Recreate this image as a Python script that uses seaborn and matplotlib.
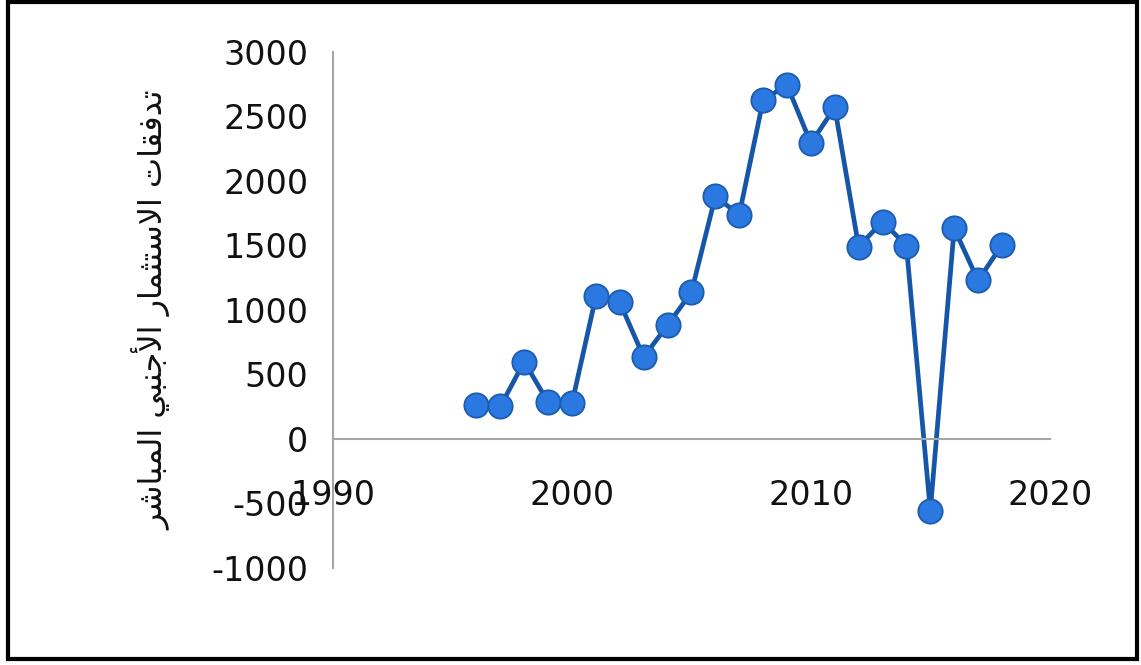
import matplotlib
matplotlib.use("Agg")
import matplotlib.pyplot as plt
from matplotlib.patches import Rectangle
import seaborn as sns

years = list(range(1996, 2019))
fdi = [265, 252, 599, 283, 277, 1105, 1058, 635, 881, 1138, 1880, 1737,
       2625, 2744, 2292, 2569, 1490, 1685, 1498, -557, 1631, 1228, 1503]
x_ticks = [1990, 2000, 2010, 2020]
y_ticks = [-1000, -500, 0, 500, 1000, 1500, 2000, 2500, 3000]
y_label = "تدفقات الاستثمار الأجنبي المباشر"

# matplotlib does no arabic shaping, so pick presentation forms by hand
# letter: (isolated, final, initial, medial)
FORMS = {
    "ا": ("\uFE8D", "\uFE8E", None, None),
    "أ": ("\uFE83", "\uFE84", None, None),
    "ب": ("\uFE8F", "\uFE90", "\uFE91", "\uFE92"),
    "ت": ("\uFE95", "\uFE96", "\uFE97", "\uFE98"),
    "ث": ("\uFE99", "\uFE9A", "\uFE9B", "\uFE9C"),
    "ج": ("\uFE9D", "\uFE9E", "\uFE9F", "\uFEA0"),
    "د": ("\uFEA9", "\uFEAA", None, None),
    "ر": ("\uFEAD", "\uFEAE", None, None),
    "س": ("\uFEB1", "\uFEB2", "\uFEB3", "\uFEB4"),
    "ش": ("\uFEB5", "\uFEB6", "\uFEB7", "\uFEB8"),
    "ف": ("\uFED1", "\uFED2", "\uFED3", "\uFED4"),
    "ق": ("\uFED5", "\uFED6", "\uFED7", "\uFED8"),
    "ل": ("\uFEDD", "\uFEDE", "\uFEDF", "\uFEE0"),
    "م": ("\uFEE1", "\uFEE2", "\uFEE3", "\uFEE4"),
    "ن": ("\uFEE5", "\uFEE6", "\uFEE7", "\uFEE8"),
    "ي": ("\uFEF1", "\uFEF2", "\uFEF3", "\uFEF4"),
    "لا": ("\uFEFB", "\uFEFC", None, None),
    "لأ": ("\uFEF7", "\uFEF8", None, None),
}


def shape_arabic(text):
    out_words = []
    for word in text.split(" "):
        units = []
        i = 0
        while i < len(word):
            if word[i] == "ل" and i + 1 < len(word) and word[i + 1] in "اأ":
                units.append(word[i:i + 2])
                i += 2
            else:
                units.append(word[i])
                i += 1
        shaped = ""
        for k, u in enumerate(units):
            iso, fin, ini, med = FORMS[u]
            prev_joins = k > 0 and FORMS[units[k - 1]][2] is not None
            next_joins = ini is not None and k < len(units) - 1
            if prev_joins and next_joins:
                shaped += med
            elif prev_joins:
                shaped += fin
            elif next_joins:
                shaped += ini
            else:
                shaped += iso
        out_words.append(shaped)
    return " ".join(out_words)[::-1]


sns.set_theme(style="white")
plt.rcParams["font.family"] = ["DejaVu Sans"]

fig = plt.figure(figsize=(11.41, 6.65), dpi=100)
ax = fig.add_axes([0.292, 0.146, 0.628, 0.776])

sns.lineplot(x=years, y=fdi, ax=ax, color="#1656a8", linewidth=3.4,
             marker="o", markersize=17.5, markerfacecolor="#2a78e0",
             markeredgecolor="#1a5cb0", markeredgewidth=1.3)

ax.set_xlim(1990, 2020)
ax.set_ylim(-1000, 3000)
ax.set_xticks(x_ticks)
ax.set_yticks(y_ticks)
ax.set_xticklabels([str(t) for t in x_ticks])
ax.set_yticklabels([str(t) for t in y_ticks])

for side in ["top", "right"]:
    ax.spines[side].set_visible(False)
ax.spines["bottom"].set_position(("data", 0))
for side in ["left", "bottom"]:
    ax.spines[side].set_color("#a6a6a6")
    ax.spines[side].set_linewidth(1.5)
ax.tick_params(axis="x", length=0, pad=29, labelsize=24, labelcolor="#111111")
ax.tick_params(axis="y", length=0, pad=18, labelsize=24, labelcolor="#111111")

ax.set_ylabel(shape_arabic(y_label), fontsize=23, color="#111111")
ax.yaxis.set_label_coords(-0.226, 0.5)
ax.set_xlabel("")

fig.patches.append(Rectangle((8 / 1141, 6 / 665), 1129 / 1141, 657 / 665,
                             transform=fig.transFigure, fill=False,
                             edgecolor="black", linewidth=3))

fig.savefig("out.png", dpi=100)
